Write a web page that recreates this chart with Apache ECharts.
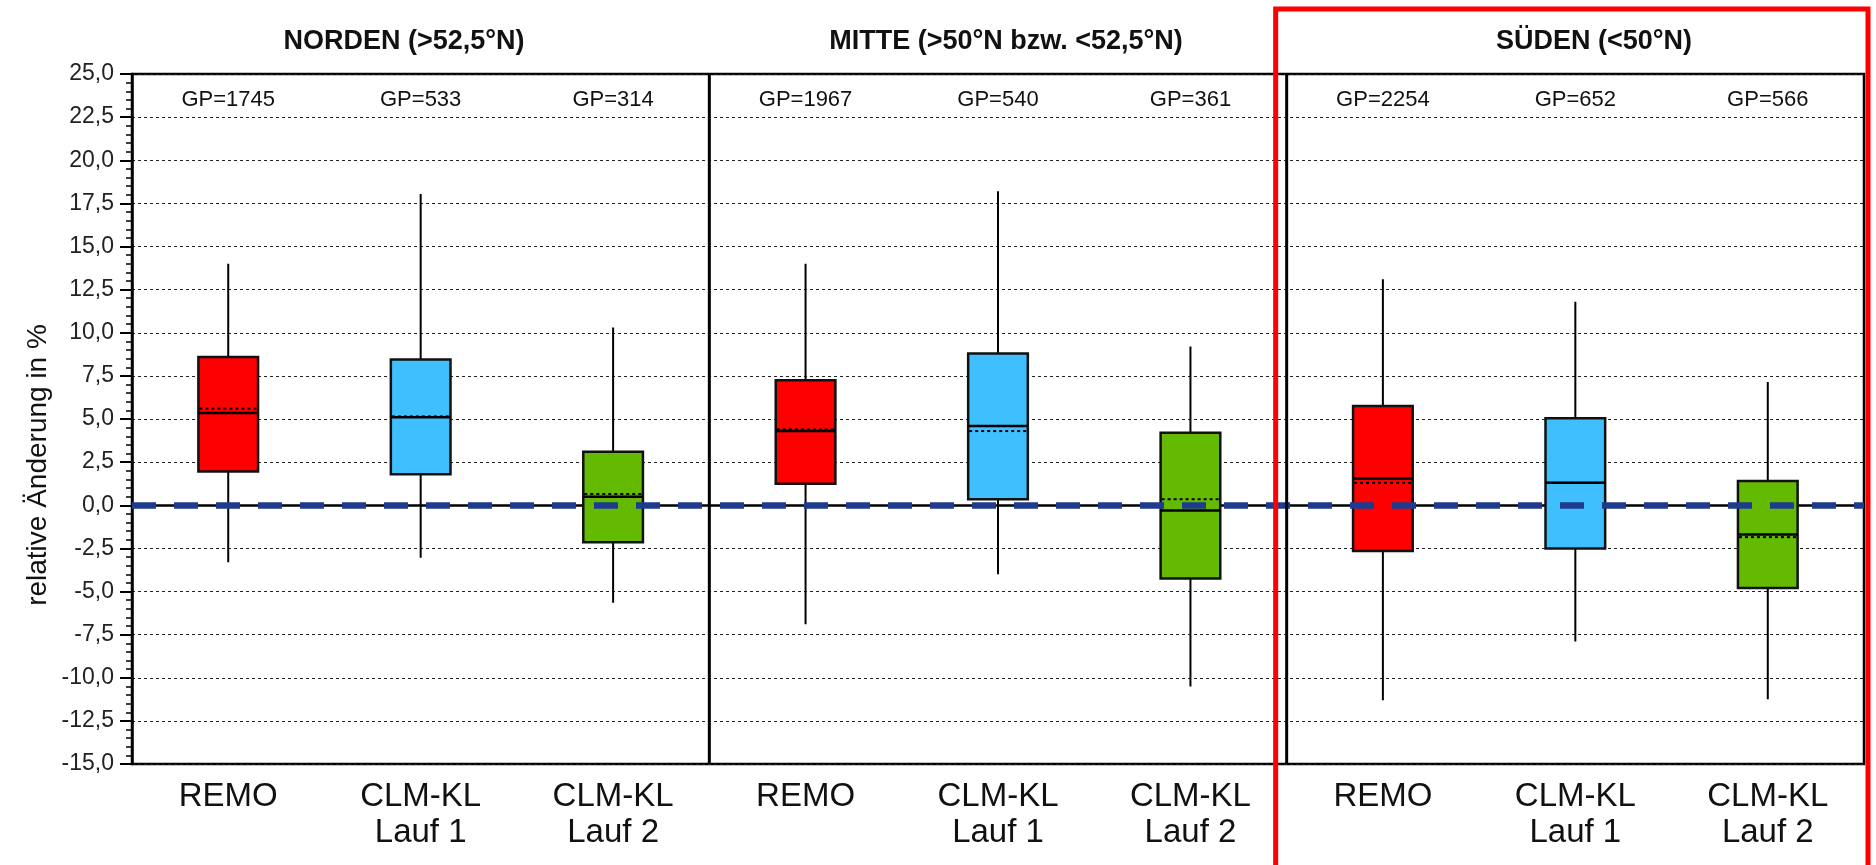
<!DOCTYPE html>
<html>
<head>
<meta charset="utf-8">
<title>Relative Änderung – Boxplots nach Regionen</title>
<script src="https://cdn.jsdelivr.net/npm/echarts@6/dist/echarts.min.js"></script>
<style>
  html, body { margin: 0; padding: 0; background: #fff; }
  #chart { width: 1876px; height: 865px; }
</style>
</head>
<body>
<div id="chart"></div>
<script>
// ---- data -------------------------------------------------------------
const REGIONS = ['NORDEN (>52,5°N)', 'MITTE (>50°N bzw. <52,5°N)', 'SÜDEN (<50°N)'];
const MODELS = ['REMO', 'CLM-KL\nLauf 1', 'CLM-KL\nLauf 2'];
const CATEGORIES = [].concat(MODELS, MODELS, MODELS);

// grid point counts per box
const GP_COUNTS = [1745, 533, 314, 1967, 540, 361, 2254, 652, 566];

// box statistics in %, order: Nord (REMO, Lauf 1, Lauf 2), Mitte (...), Süd (...)
const WHISKER_LOW  = [-3.3, -3.05, -5.65, -6.9, -4.0, -10.5, -11.3, -7.9, -11.25];
const Q1           = [1.95, 1.8, -2.15, 1.25, 0.35, -4.25, -2.65, -2.5, -4.8];
const MEDIAN       = [5.35, 5.1, 0.5, 4.3, 4.6, -0.3, 1.55, 1.3, -1.7];
const Q3           = [8.6, 8.45, 3.1, 7.25, 8.8, 4.2, 5.75, 5.05, 1.4];
const WHISKER_HIGH = [14.0, 18.05, 10.3, 14.0, 18.2, 9.2, 13.1, 11.8, 7.15];
const MEAN         = [5.6, 5.15, 0.65, 4.4, 4.3, 0.35, 1.3, 1.3, -1.85];

// value axis
const Y_MIN = -15, Y_MAX = 25, Y_STEP = 2.5;

// ---- styling ------------------------------------------------------------
const FONT = "'Liberation Sans', Arial, Helvetica, sans-serif";
const MODEL_COLORS = ['#ff0000', '#40bfff', '#63ba00'];
const GP_LABEL_Y = 23.5;
const BOX_WIDTH_RATIO = 0.31;
const TITLE_X = [404, 1006, 1594];

const chart = echarts.init(document.getElementById('chart'), null, { renderer: 'canvas' });

const boxData = CATEGORIES.map((_, i) =>
  [i, WHISKER_LOW[i], Q1[i], MEDIAN[i], Q3[i], WHISKER_HIGH[i], MEAN[i]]);

function renderBox(params, api) {
  const i = api.value(0);
  const lo = api.coord([i, api.value(1)]);
  const q1 = api.coord([i, api.value(2)]);
  const med = api.coord([i, api.value(3)]);
  const q3 = api.coord([i, api.value(4)]);
  const hi = api.coord([i, api.value(5)]);
  const mean = api.coord([i, api.value(6)]);
  const w = api.size([1, 0])[0] * BOX_WIDTH_RATIO;
  const x = lo[0];
  return {
    type: 'group',
    children: [
      { type: 'line', shape: { x1: x, y1: hi[1], x2: x, y2: lo[1] },
        style: { stroke: '#000', lineWidth: 2 } },
      { type: 'rect', shape: { x: x - w / 2, y: q3[1], width: w, height: q1[1] - q3[1] },
        style: { fill: MODEL_COLORS[i % 3], stroke: '#111', lineWidth: 2.5 } },
      { type: 'line', shape: { x1: x - w / 2 + 1, y1: mean[1], x2: x + w / 2 - 1, y2: mean[1] },
        style: { stroke: '#000', lineWidth: 2, lineDash: [3, 3] } },
      { type: 'line', shape: { x1: x - w / 2, y1: med[1], x2: x + w / 2, y2: med[1] },
        style: { stroke: '#000', lineWidth: 2.5 } }
    ]
  };
}

function renderGp(params, api) {
  const i = api.value(0);
  const p = api.coord([i, GP_LABEL_Y]);
  return {
    type: 'text',
    x: p[0], y: p[1],
    style: {
      text: 'GP=' + api.value(1),
      font: '22px ' + FONT,
      fill: '#111',
      textAlign: 'center',
      textVerticalAlign: 'middle'
    }
  };
}

const option = {
  backgroundColor: '#fff',
  animation: false,
  grid: {
    left: 132, right: 12, top: 74, bottom: 101,
    show: true, borderColor: '#000', borderWidth: 2.5, backgroundColor: 'transparent'
  },
  xAxis: {
    type: 'category',
    data: CATEGORIES,
    boundaryGap: true,
    axisLine: { show: true, lineStyle: { color: '#000', width: 2.5 } },
    axisTick: { show: false },
    splitLine: { show: false },
    axisLabel: {
      interval: 0,
      margin: 15,
      color: '#111',
      fontFamily: FONT,
      fontSize: 33,
      lineHeight: 36
    }
  },
  yAxis: {
    type: 'value',
    min: Y_MIN, max: Y_MAX, interval: Y_STEP,
    axisLine: { show: true, lineStyle: { color: '#000', width: 2.5 } },
    axisTick: { show: true, length: 12, lineStyle: { color: '#000', width: 2 } },
    minorTick: { show: true, splitNumber: 5, length: 6, lineStyle: { color: '#000', width: 1.5 } },
    splitLine: { show: true, lineStyle: { color: '#222', width: 1, type: [3, 3] } },
    axisLabel: {
      margin: 18,
      color: '#222',
      fontFamily: FONT,
      fontSize: 23,
      formatter: v => v.toFixed(1).replace('.', ',')
    }
  },
  series: [
    {
      type: 'custom',
      name: 'Box',
      renderItem: renderBox,
      data: boxData,
      encode: { x: 0, y: [1, 2, 3, 4, 5, 6] },
      z: 3
    },
    {
      type: 'custom',
      name: 'GP',
      renderItem: renderGp,
      data: CATEGORIES.map((_, i) => [i, GP_COUNTS[i]]),
      encode: { x: 0 },
      z: 3
    },
    {
      type: 'line',
      name: 'Null',
      data: [],
      z: 6,
      markLine: {
        silent: true,
        symbol: 'none',
        label: { show: false },
        lineStyle: { color: '#1e3b8e', width: 6.5, type: [24, 18] },
        data: [{ yAxis: 0 }]
      }
    }
  ]
};

chart.setOption(option);

// panel dividers, panel titles, axis title and the frame around the southern panel
function boundaryX(a, b) {
  const pa = chart.convertToPixel({ xAxisIndex: 0 }, a);
  const pb = chart.convertToPixel({ xAxisIndex: 0 }, b);
  return (pa + pb) / 2;
}
const plotTop = chart.convertToPixel({ yAxisIndex: 0 }, Y_MAX);
const plotBottom = chart.convertToPixel({ yAxisIndex: 0 }, Y_MIN);
const div1 = boundaryX(2, 3);
const div2 = boundaryX(5, 6);

const graphics = [];
[div1, div2].forEach(x => {
  graphics.push({
    type: 'line', z: 10,
    shape: { x1: x, y1: plotTop, x2: x, y2: plotBottom },
    style: { stroke: '#000', lineWidth: 3 }
  });
});
REGIONS.forEach((name, r) => {
  graphics.push({
    type: 'text', z: 10, x: TITLE_X[r], y: 42,
    style: {
      text: name, font: 'bold 27px ' + FONT, fill: '#111',
      textAlign: 'center', textVerticalAlign: 'middle'
    }
  });
});
graphics.push({
  type: 'text', z: 10, x: 38, y: 465, rotation: Math.PI / 2,
  style: {
    text: 'relative Änderung in %', font: '28px ' + FONT, fill: '#111',
    textAlign: 'center', textVerticalAlign: 'middle'
  }
});
graphics.push({
  type: 'rect', z: 12,
  shape: { x: div2 - 11, y: 9, width: 1868 - (div2 - 11), height: 900 },
  style: { fill: 'none', stroke: '#ff0000', lineWidth: 5 }
});

chart.setOption({ graphic: graphics });
</script>
</body>
</html>
